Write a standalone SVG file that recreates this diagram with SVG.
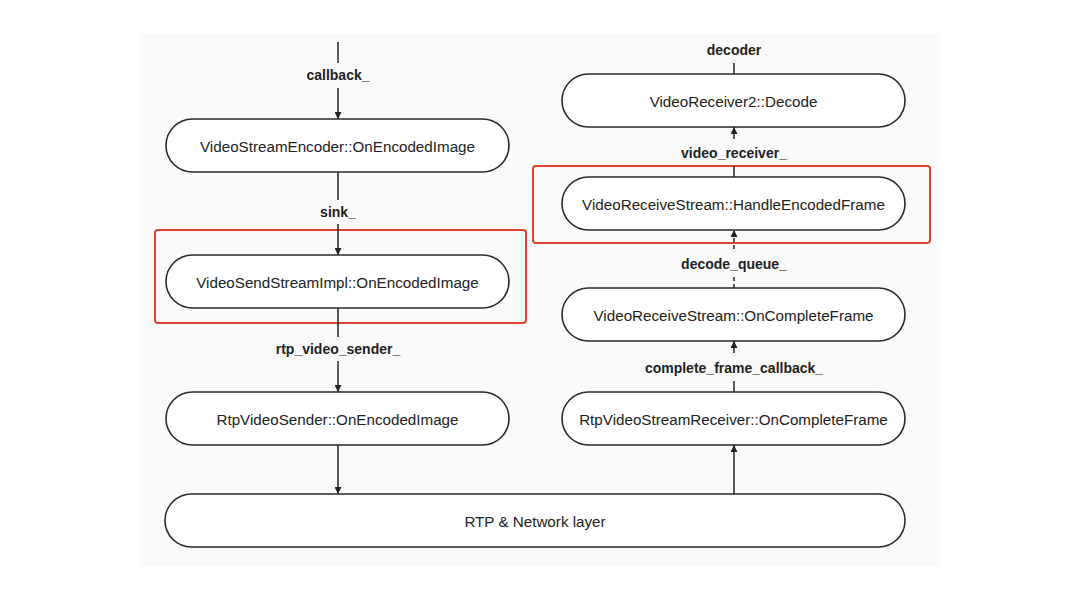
<svg xmlns="http://www.w3.org/2000/svg" width="1080" height="607" viewBox="0 0 1080 607">
<defs>
<style>
.node rect{fill:#fff;stroke:#2a2a2a;stroke-width:1.6}
.node text{font-family:"Liberation Sans",Arial,sans-serif;font-size:15.2px;fill:#222;text-anchor:middle;dominant-baseline:central}
.lbl{font-family:"Liberation Sans",Arial,sans-serif;font-size:14px;font-weight:bold;fill:#222;text-anchor:middle;dominant-baseline:central}
.ln{stroke:#222;stroke-width:1.5;fill:none}
.dash{stroke-dasharray:4 3}
.hl{fill:none;stroke:#e2412e;stroke-width:2}
</style>
<marker id="ah" viewBox="0 0 10 10" refX="10" refY="5" markerWidth="7" markerHeight="7" markerUnits="userSpaceOnUse" orient="auto">
<path d="M0,0 L10,5 L0,10 z" fill="#222"/>
</marker>
</defs>
<rect x="0" y="0" width="1080" height="607" fill="#fff"/>
<rect x="140" y="34" width="800" height="532" fill="#fafafa"/>

<g id="highlights">
<rect class="hl" x="155" y="230" width="371" height="93" rx="3"/>
<rect class="hl" x="533" y="166" width="397" height="77" rx="3"/>
</g>

<g id="connectors">
<line class="ln" x1="338" y1="42" x2="338" y2="63"/>
<line class="ln" x1="338" y1="88" x2="338" y2="119" marker-end="url(#ah)"/>
<line class="ln" x1="338" y1="172" x2="338" y2="200"/>
<line class="ln" x1="338" y1="224" x2="338" y2="255" marker-end="url(#ah)"/>
<line class="ln" x1="338" y1="308" x2="338" y2="337"/>
<line class="ln" x1="338" y1="361" x2="338" y2="392" marker-end="url(#ah)"/>
<line class="ln" x1="338" y1="445" x2="338" y2="494" marker-end="url(#ah)"/>

<line class="ln" x1="734" y1="63" x2="734" y2="74"/>
<line class="ln" x1="734" y1="139" x2="734" y2="127" marker-end="url(#ah)"/>
<line class="ln" x1="734" y1="166" x2="734" y2="177"/>
<line class="ln dash" x1="734" y1="249" x2="734" y2="230" marker-end="url(#ah)"/>
<line class="ln dash" x1="734" y1="277" x2="734" y2="288"/>
<line class="ln" x1="734" y1="353" x2="734" y2="341" marker-end="url(#ah)"/>
<line class="ln" x1="734" y1="381" x2="734" y2="392"/>
<line class="ln" x1="734" y1="494" x2="734" y2="445" marker-end="url(#ah)"/>

<text class="lbl" x="338" y="75">callback_</text>
<text class="lbl" x="338" y="212">sink_</text>
<text class="lbl" x="338" y="349">rtp_video_sender_</text>
<text class="lbl" x="734" y="50">decoder</text>
<text class="lbl" x="734" y="153">video_receiver_</text>
<text class="lbl" x="734" y="264">decode_queue_</text>
<text class="lbl" x="734" y="368">complete_frame_callback_</text>
</g>

<g id="n_encoder" class="node">
<rect x="166" y="119" width="343" height="53" rx="26.5"/>
<text x="337.5" y="146">VideoStreamEncoder::OnEncodedImage</text>
</g>
<g id="n_sendstream" class="node">
<rect x="166" y="255" width="343" height="53" rx="26.5"/>
<text x="337.5" y="282">VideoSendStreamImpl::OnEncodedImage</text>
</g>
<g id="n_rtpsender" class="node">
<rect x="166" y="392" width="343" height="53" rx="26.5"/>
<text x="337.5" y="419">RtpVideoSender::OnEncodedImage</text>
</g>
<g id="n_decode" class="node">
<rect x="562" y="74" width="343" height="53" rx="26.5"/>
<text x="733.5" y="101">VideoReceiver2::Decode</text>
</g>
<g id="n_handle" class="node">
<rect x="562" y="177" width="343" height="53" rx="26.5"/>
<text x="733.5" y="204">VideoReceiveStream::HandleEncodedFrame</text>
</g>
<g id="n_complete" class="node">
<rect x="562" y="288" width="343" height="53" rx="26.5"/>
<text x="733.5" y="315">VideoReceiveStream::OnCompleteFrame</text>
</g>
<g id="n_rtpreceiver" class="node">
<rect x="562" y="392" width="343" height="53" rx="26.5"/>
<text x="733.5" y="419">RtpVideoStreamReceiver::OnCompleteFrame</text>
</g>
<g id="n_network" class="node">
<rect x="165" y="494" width="740" height="53" rx="26.5"/>
<text x="535" y="521">RTP &amp; Network layer</text>
</g>
</svg>
